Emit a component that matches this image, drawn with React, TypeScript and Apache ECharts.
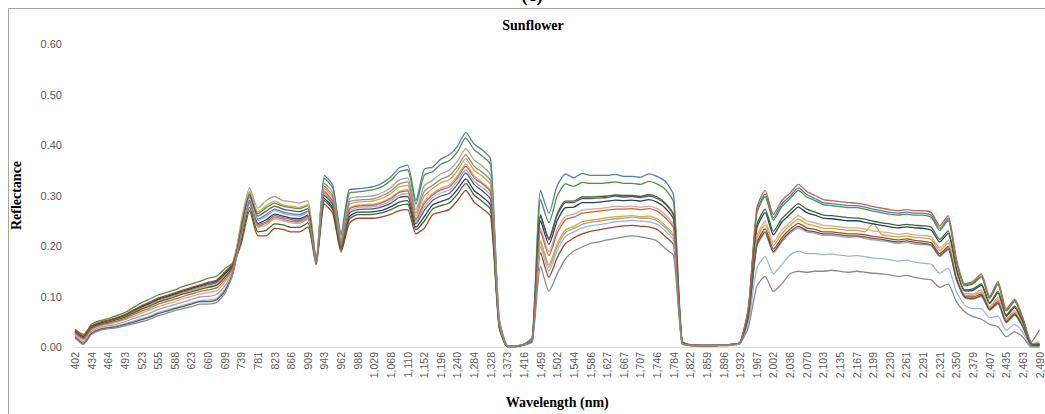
import React, { useEffect, useRef } from "react";
import * as echarts from "echarts";

const wavelengths = [
  402, 418, 434, 449, 464, 478, 493, 508, 523, 539,
  555, 571, 588, 605, 623, 641, 660, 680, 699, 719,
  739, 760, 781, 802, 823, 845, 866, 888, 909, 926,
  943, 953, 962, 975, 988, 1008, 1029, 1048, 1068, 1089,
  1110, 1131, 1152, 1174, 1196, 1218, 1240, 1262, 1284, 1306,
  1328, 1350, 1373, 1395, 1416, 1438, 1459, 1481, 1502, 1523,
  1544, 1565, 1586, 1607, 1627, 1647, 1667, 1687, 1707, 1727,
  1746, 1765, 1784, 1803, 1822, 1841, 1859, 1878, 1896, 1914,
  1932, 1950, 1967, 1985, 2002, 2019, 2036, 2053, 2070, 2087,
  2103, 2119, 2135, 2151, 2167, 2183, 2199, 2215, 2230, 2246,
  2261, 2276, 2291, 2306, 2321, 2335, 2350, 2365, 2379, 2393,
  2407, 2421, 2435, 2449, 2463, 2477, 2490,
];

const s1 = [
  .031,.020,.040,.047,.051,.056,.062,.070,.079,.085,.093,.098,.103,.109,.114,.119,.123,.127,.143,.162,
  .232,.297,.253,.262,.273,.267,.264,.262,.269,.170,
  .340,.320,.225,.312,.313,.315,.318,.325,.337,.355,.360,.290,.352,.356,.372,.380,.398,.425,.402,.390,.372,
  .060,.003,.002,.006,.020,
  .310,.265,.320,.343,.335,.344,.340,.340,.340,.342,.338,.338,.336,.343,.338,.328,.300,
  .012,.004,.003,.003,.003,.004,.005,.009,
  .078,.269,.303,.256,.283,.299,.315,.302,.294,.286,.284,.282,.280,.280,.277,.273,.270,.267,.265,.267,.265,.265,.261,.235,.255,.172,.123,.127,.141,.098,.126,.073,.092,.056,.008,.006,
];
const s2 = [
  .035,.025,.045,.052,.056,.062,.068,.078,.088,.095,.103,.108,.113,.120,.125,.130,.136,.140,.155,.168,
  .241,.306,.264,.276,.285,.279,.276,.274,.280,.173,
  .334,.315,.221,.305,.307,.309,.312,.318,.330,.347,.351,.283,.340,.347,.362,.369,.387,.414,.391,.378,.361,
  .058,.002,.002,.005,.018,
  .292,.246,.299,.323,.318,.326,.324,.324,.325,.327,.324,.324,.322,.328,.323,.312,.286,
  .011,.004,.003,.003,.003,.004,.005,.009,
  .077,.264,.298,.251,.278,.294,.310,.297,.290,.282,.280,.278,.276,.276,.273,.269,.266,.263,.261,.263,.261,.261,.257,.231,.251,.169,.121,.125,.139,.096,.124,.071,.090,.055,.007,.005,
];
const s3 = [
  .023,.011,.031,.039,.042,.045,.050,.056,.061,.067,.074,.079,.084,.089,.094,.099,.100,.104,.120,.152,
  .250,.315,.275,.290,.298,.290,.288,.285,.290,.175,
  .324,.305,.215,.293,.297,.298,.300,.306,.316,.331,.335,.272,.319,.330,.343,.350,.368,.393,.370,.358,.340,
  .054,.002,.002,.005,.015,
  .207,.158,.199,.227,.235,.243,.247,.249,.252,.254,.255,.257,.255,.255,.250,.236,.217,
  .008,.003,.003,.003,.003,.004,.005,.008,
  .060,.198,.225,.186,.208,.225,.236,.228,.225,.221,.221,.219,.217,.218,.215,.212,.210,.208,.205,.207,.204,.203,.200,.179,.193,.133,.098,.095,.100,.073,.085,.048,.063,.039,.004,.003,
];
const s4 = [
  .030,.019,.039,.046,.050,.055,.060,.068,.077,.083,.091,.096,.101,.107,.112,.117,.121,.124,.140,.161,
  .243,.308,.267,.280,.289,.281,.279,.276,.282,.173,
  .314,.295,.208,.282,.287,.288,.290,.295,.304,.317,.320,.260,.299,.314,.325,.331,.349,.373,.350,.338,.321,
  .051,.002,.002,.005,.015,
  .211,.163,.205,.232,.239,.248,.251,.253,.256,.258,.259,.260,.258,.259,.254,.240,.221,
  .008,.004,.003,.003,.004,.004,.005,.009,
  .064,.213,.242,.201,.224,.241,.253,.244,.240,.235,.235,.233,.231,.231,.228,.245,.223,.220,.218,.220,.217,.216,.213,.191,.206,.141,.103,.102,.109,.078,.094,.053,.069,.043,.005,.004,
];
const s5 = [
  .032,.021,.041,.048,.052,.057,.063,.072,.080,.087,.095,.100,.105,.111,.116,.121,.126,.130,.145,.163,
  .225,.290,.245,.252,.263,.259,.255,.254,.261,.168,
  .294,.276,.195,.258,.267,.267,.268,.271,.278,.287,.290,.237,.258,.281,.288,.294,.312,.333,.310,.297,.281,
  .044,.001,.001,.004,.013,
  .250,.203,.250,.276,.277,.286,.286,.287,.289,.291,.290,.291,.289,.292,.287,.275,.252,
  .010,.004,.003,.002,.003,.004,.005,.008,
  .070,.235,.266,.222,.247,.263,.277,.266,.261,.255,.254,.252,.250,.250,.247,.244,.241,.238,.236,.238,.236,.235,.231,.208,.225,.153,.111,.112,.122,.086,.107,.061,.078,.048,.006,.005,
];
const s6 = [
  .032,.022,.042,.049,.053,.058,.064,.073,.082,.089,.097,.102,.107,.113,.118,.123,.128,.132,.148,.165,
  .205,.270,.220,.220,.235,.233,.228,.228,.238,.163,
  .283,.265,.188,.245,.255,.255,.255,.258,.263,.270,.272,.224,.235,.262,.267,.272,.290,.310,.287,.274,.258,
  .040,.001,.001,.004,.012,
  .187,.138,.177,.205,.216,.224,.229,.232,.235,.238,.240,.241,.239,.238,.233,.219,.202,
  .007,.003,.002,.002,.003,.003,.004,.007,
  .062,.205,.234,.194,.216,.233,.245,.236,.233,.228,.228,.226,.224,.224,.222,.219,.217,.214,.212,.214,.211,.209,.206,.185,.199,.137,.100,.099,.105,.075,.090,.050,.066,.041,.004,.003,
];
const s7 = [
  .026,.014,.034,.042,.045,.049,.054,.060,.067,.073,.080,.085,.090,.096,.100,.105,.108,.111,.128,.155,
  .219,.284,.237,.241,.254,.250,.246,.245,.254,.167,
  .309,.290,.205,.275,.281,.282,.283,.288,.296,.308,.312,.254,.288,.304,.314,.321,.339,.362,.339,.326,.309,
  .049,.002,.002,.005,.015,
  .235,.188,.233,.259,.263,.271,.273,.274,.276,.279,.278,.279,.277,.279,.274,.262,.240,
  .009,.004,.003,.003,.003,.004,.005,.009,
  .066,.219,.249,.207,.231,.247,.260,.250,.246,.241,.240,.238,.236,.236,.234,.230,.228,.226,.223,.225,.222,.221,.218,.196,.211,.144,.105,.105,.113,.080,.098,.055,.072,.044,.006,.010,
];
const s8 = [
  .021,.008,.028,.036,.039,.042,.046,.051,.056,.061,.068,.073,.078,.083,.087,.092,.093,.096,.113,.148,
  .230,.295,.250,.259,.270,.264,.261,.259,.267,.170,
  .304,.285,.201,.269,.276,.277,.278,.282,.290,.301,.304,.248,.277,.296,.305,.311,.329,.351,.328,.316,.299,
  .047,.002,.002,.004,.013,
  .199,.150,.191,.219,.228,.236,.240,.242,.245,.248,.249,.251,.249,.248,.243,.230,.211,
  .008,.003,.003,.003,.003,.004,.005,.008,
  .049,.156,.179,.145,.163,.182,.190,.185,.185,.183,.184,.182,.180,.181,.179,.176,.175,.173,.170,.172,.168,.166,.164,.146,.156,.110,.083,.076,.076,.058,.061,.033,.045,.029,.002,.002,
];
const s9 = [
  .029,.018,.038,.045,.049,.054,.059,.067,.075,.081,.089,.094,.099,.105,.109,.114,.118,.122,.138,.160,
  .212,.277,.228,.231,.244,.242,.237,.237,.246,.165,
  .290,.272,.192,.253,.262,.262,.263,.266,.272,.280,.283,.232,.249,.273,.280,.285,.303,.324,.301,.288,.272,
  .042,.001,.001,.004,.013,
  .262,.215,.264,.289,.289,.297,.297,.298,.299,.301,.300,.300,.298,.302,.297,.285,.262,
  .010,.004,.003,.003,.003,.004,.005,.009,
  .071,.241,.273,.229,.254,.270,.284,.273,.267,.261,.260,.258,.256,.255,.253,.249,.246,.244,.241,.243,.241,.240,.237,.213,.230,.156,.113,.115,.125,.088,.110,.063,.081,.050,.006,.005,
];
const s10 = [
  .020,.007,.027,.035,.038,.040,.045,.049,.054,.059,.066,.071,.076,.080,.085,.090,.090,.093,.110,.147,
  .237,.302,.259,.269,.279,.273,.270,.268,.274,.171,
  .300,.282,.199,.265,.272,.273,.274,.278,.285,.296,.298,.244,.270,.290,.299,.304,.322,.345,.322,.309,.292,
  .046,.002,.002,.005,.014,
  .259,.212,.261,.286,.286,.294,.294,.295,.296,.299,.297,.298,.296,.299,.294,.283,.259,
  .010,.004,.003,.003,.003,.004,.005,.008,
  .061,.201,.228,.189,.211,.228,.239,.231,.228,.224,.224,.222,.220,.220,.218,.215,.213,.210,.208,.210,.207,.205,.202,.181,.195,.134,.099,.096,.102,.074,.087,.049,.064,.040,.004,.003,
];
const s11 = [
  .027,.016,.036,.043,.047,.051,.056,.064,.071,.077,.085,.090,.095,.100,.105,.110,.113,.117,.133,.158,
  .223,.288,.242,.248,.260,.256,.252,.251,.259,.168,
  .307,.288,.204,.273,.279,.280,.281,.286,.294,.306,.309,.252,.284,.301,.311,.317,.335,.358,.335,.323,.306,
  .048,.002,.002,.005,.015,
  .229,.181,.226,.252,.257,.265,.267,.269,.271,.273,.273,.274,.272,.274,.269,.256,.235,
  .009,.004,.003,.003,.003,.004,.005,.009,
  .080,.275,.310,.262,.290,.305,.322,.308,.300,.292,.290,.288,.286,.285,.282,.278,.275,.272,.270,.272,.270,.270,.266,.240,.260,.175,.125,.130,.145,.100,.130,.075,.095,.058,.010,.034,
];
const s12 = [
  .018,.005,.025,.033,.036,.038,.042,.046,.050,.055,.062,.067,.072,.076,.080,.085,.085,.088,.105,.145,
  .221,.286,.239,.245,.257,.253,.249,.248,.256,.167,
  .318,.299,.211,.287,.291,.292,.294,.300,.309,.323,.327,.265,.308,.320,.332,.339,.357,.381,.358,.346,.329,
  .052,.002,.002,.004,.010,
  .160,.110,.145,.175,.190,.198,.205,.208,.212,.215,.218,.220,.218,.215,.210,.195,.180,
  .006,.003,.002,.002,.003,.003,.004,.007,
  .040,.120,.140,.110,.125,.145,.150,.148,.150,.150,.152,.150,.148,.150,.148,.146,.145,.143,.140,.142,.138,.135,.133,.118,.125,.090,.070,.060,.055,.045,.040,.020,.030,.020,.000,.000,
];

const seriesValues = [s1, s2, s3, s4, s5, s6, s7, s8, s9, s10, s11, s12];
const seriesColors = [
  "#4F7FBF", "#4E9140", "#A3A3A3", "#D9A730", "#233D7A", "#A6452B",
  "#E2A48E", "#9AB6DA", "#3B6B2A", "#5A5A5A", "#C0654A", "#8C8C8C",
];

const serif = "'Liberation Serif', 'DejaVu Serif', serif";
const sans = "'Liberation Sans', Arial, sans-serif";

export default function App() {
  const ref = useRef<HTMLDivElement>(null);
  useEffect(() => {
    const chart = echarts.init(ref.current!, null, { renderer: "svg" });
    chart.setOption({
      animation: false,
      backgroundColor: "#ffffff",
      grid: { left: 75, right: 4, top: 44, bottom: 60, containLabel: false },
      graphic: [
        { type: "line", shape: { x1: 8, y1: 8.5, x2: 1045, y2: 8.5 }, style: { stroke: "#a6a6a6", lineWidth: 1 } },
        { type: "line", shape: { x1: 8.5, y1: 8, x2: 8.5, y2: 414 }, style: { stroke: "#a6a6a6", lineWidth: 1 } },
        {
          type: "text", x: 532, y: 4,
          style: { text: "(c)", font: `bold 20px ${serif}`, fill: "#000", textAlign: "center", textVerticalAlign: "bottom" },
        },
        {
          type: "text", x: 533, y: 25,
          style: { text: "Sunflower", font: `bold 14px ${serif}`, fill: "#000", textAlign: "center", textVerticalAlign: "middle" },
        },
      ],
      xAxis: {
        type: "category",
        data: wavelengths,
        boundaryGap: false,
        name: "Wavelength (nm)",
        nameLocation: "middle",
        nameGap: 48,
        nameTextStyle: { fontFamily: serif, fontWeight: "bold", fontSize: 14, color: "#000" },
        axisLine: { lineStyle: { color: "#d9d9d9", width: 1 } },
        axisTick: { show: false },
        splitLine: { show: false },
        axisLabel: {
          interval: 1,
          rotate: 90,
          margin: 5,
          fontSize: 10.5,
          fontFamily: sans,
          color: "#595959",
          formatter: (v: string) => Number(v).toLocaleString("en-US"),
        },
      },
      yAxis: {
        type: "value",
        min: 0,
        max: 0.6,
        interval: 0.1,
        name: "Reflectance",
        nameLocation: "middle",
        nameRotate: 90,
        nameGap: 52,
        nameTextStyle: { fontFamily: serif, fontWeight: "bold", fontSize: 14, color: "#000" },
        axisLine: { show: false },
        axisTick: { show: false },
        splitLine: { show: false },
        axisLabel: {
          margin: 13,
          fontSize: 11,
          fontFamily: sans,
          color: "#595959",
          formatter: (v: number) => v.toFixed(2),
        },
      },
      series: seriesValues.map((vals, i) => ({
        type: "line",
        data: vals,
        showSymbol: false,
        smooth: 0.2,
        lineStyle: { width: 1.3, color: seriesColors[i] },
        itemStyle: { color: seriesColors[i] },
        emphasis: { disabled: true },
      })),
    });
    return () => chart.dispose();
  }, []);
  return <div ref={ref} style={{ position: "absolute", left: 0, top: 0, width: 1045, height: 414 }} />;
}
